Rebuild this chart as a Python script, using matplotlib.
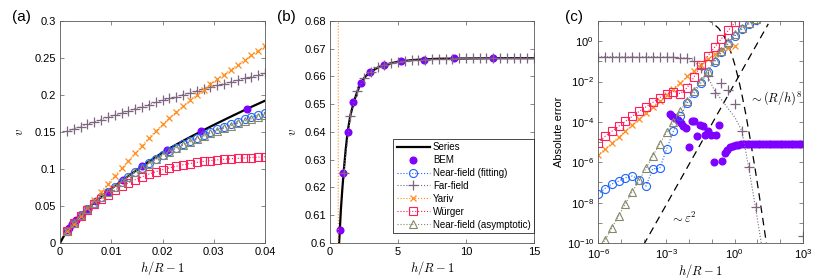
import matplotlib
matplotlib.use("Agg")
import matplotlib.pyplot as plt
from matplotlib.lines import Line2D
from matplotlib.ticker import FixedLocator, NullFormatter, LogFormatterSciNotation

plt.rcParams['font.family'] = ['Liberation Sans', 'DejaVu Sans']
plt.rcParams['mathtext.fontset'] = 'cm'

# ---------------- panel (a): small gaps ----------------
a_x = [0.00133, 0.00267, 0.004, 0.00533, 0.00667, 0.008, 0.00933, 0.01067, 0.012, 0.01333,
       0.01467, 0.016, 0.01733, 0.01867, 0.02, 0.02133, 0.02267, 0.024, 0.02533, 0.02667,
       0.028, 0.02933, 0.03067, 0.032, 0.03333, 0.03467, 0.036, 0.03733, 0.03867, 0.04]
a_series_x = [0.0] + a_x
a_series = [0.0, 0.0166, 0.0277, 0.0373, 0.0461, 0.0544, 0.0622, 0.0697, 0.0769, 0.0838, 0.0906,
            0.0972, 0.1036, 0.1099, 0.1161, 0.1221, 0.1278, 0.1329, 0.1380, 0.1429, 0.1477,
            0.1525, 0.1572, 0.1618, 0.1663, 0.1708, 0.1752, 0.1796, 0.1839, 0.1881, 0.1923]
a_bem_x = [0.0014, 0.0018, 0.0024, 0.0032, 0.0041, 0.0054, 0.0071, 0.0093, 0.0122, 0.016,
           0.0208, 0.0275, 0.0364]
a_bem = [0.0172, 0.0207, 0.0256, 0.0316, 0.0380, 0.0466, 0.0569, 0.0695, 0.0849, 0.1036,
         0.1257, 0.1518, 0.1807]
a_nf_fit = [0.0166, 0.0277, 0.0372, 0.0460, 0.0542, 0.0619, 0.0693, 0.0763, 0.0830, 0.0896,
            0.0959, 0.1020, 0.1079, 0.1137, 0.1193, 0.1245, 0.1290, 0.1335, 0.1378, 0.1419,
            0.1459, 0.1498, 0.1536, 0.1571, 0.1607, 0.1640, 0.1673, 0.1704, 0.1734, 0.1763]
a_far = [0.1510, 0.1542, 0.1574, 0.1605, 0.1636, 0.1667, 0.1697, 0.1727, 0.1757, 0.1786,
         0.1815, 0.1843, 0.1871, 0.1899, 0.1926, 0.1953, 0.1979, 0.2005, 0.2031, 0.2056,
         0.2081, 0.2106, 0.2130, 0.2154, 0.2178, 0.2201, 0.2224, 0.2247, 0.2269, 0.2291]
a_yariv = [0.0160, 0.0260, 0.0365, 0.0470, 0.0580, 0.0690, 0.0800, 0.0905, 0.1010, 0.1110,
           0.1210, 0.1315, 0.1420, 0.1512, 0.1602, 0.1688, 0.1770, 0.1850, 0.1926, 0.2000,
           0.2072, 0.2142, 0.2210, 0.2277, 0.2343, 0.2408, 0.2472, 0.2535, 0.2598, 0.2660]
a_wurger = [0.0168, 0.0277, 0.0368, 0.0450, 0.0525, 0.0593, 0.0655, 0.0712, 0.0764, 0.0812,
            0.0856, 0.0895, 0.0930, 0.0962, 0.0990, 0.1015, 0.1037, 0.1057, 0.1074, 0.1089,
            0.1102, 0.1113, 0.1123, 0.1131, 0.1138, 0.1144, 0.1149, 0.1155, 0.1160, 0.1165]
a_nf_asym = [0.0166, 0.0277, 0.0372, 0.0459, 0.0541, 0.0618, 0.0692, 0.0761, 0.0827, 0.0893,
             0.0955, 0.1015, 0.1073, 0.1130, 0.1186, 0.1236, 0.1280, 0.1324, 0.1366, 0.1406,
             0.1444, 0.1482, 0.1518, 0.1552, 0.1586, 0.1617, 0.1649, 0.1678, 0.1706, 0.1733]

# ---------------- panel (b): large gaps ----------------
b_series_x = [0.60, 0.67, 0.72, 0.80, 0.90, 1.0, 1.15, 1.3, 1.5, 1.75, 2.0, 2.25, 2.5, 2.75,
              3.0, 3.5, 4.0, 4.5, 5.0, 6.0, 7.0, 8.0, 10.0, 12.0, 15.0]
b_series = [0.593, 0.600, 0.6045, 0.612, 0.619, 0.6253, 0.6335, 0.6402, 0.6460, 0.6508,
            0.6545, 0.6574, 0.6594, 0.6607, 0.6617, 0.6632, 0.6641, 0.6648, 0.6653, 0.6659,
            0.6662, 0.6664, 0.6665, 0.6666, 0.6666]
b_bem_x = [0.73, 0.98, 1.30, 1.69, 2.25, 2.96, 3.94, 5.21, 6.9, 9.1, 12.0]
b_bem = [0.6047, 0.6253, 0.6401, 0.6507, 0.6575, 0.6617, 0.6641, 0.6656, 0.6661, 0.6665, 0.6666]
b_far_x = [1.0, 1.5, 2.0, 2.5, 3.0, 3.5, 4.0, 4.5, 5.0, 5.5, 6.0, 6.5, 7.0, 7.5, 8.0, 8.5,
           9.0, 9.5, 10.0, 10.5, 11.0, 11.5, 12.0, 12.5, 13.0, 13.5, 14.0, 14.5, 15.0]
b_far = [0.6253, 0.6458, 0.6546, 0.6594, 0.6618, 0.6633, 0.6642, 0.6648, 0.6652, 0.6655,
         0.6658, 0.6660, 0.6661, 0.6662, 0.6663, 0.6664, 0.6664, 0.6665, 0.6665, 0.6665,
         0.6666, 0.6666, 0.6666, 0.6666, 0.6666, 0.6666, 0.6666, 0.6666, 0.6666]
b_yariv_x = [0.605, 0.610, 0.615]
b_yariv = [0.57, 0.64, 0.71]

# ---------------- panel (c): absolute error ----------------
c_x = [1e-6, 2e-6, 4e-6, 8e-6, 1.6e-5, 3.2e-5, 6.4e-5, 1.28e-4, 2.56e-4, 5.12e-4, 1.024e-3,
       2.048e-3, 4.096e-3, 8.192e-3, 1.638e-2, 3.277e-2, 6.554e-2, 0.1311, 0.2621, 0.5243,
       1.049, 2.097, 4.194, 8.389]
c_wurger = [9.5e-6, 1.9e-5, 3.4e-5, 6.0e-5, 1.07e-4, 1.9e-4, 3.3e-4, 5.6e-4, 9.3e-4, 1.6e-3,
            2.4e-3, 3.2e-3, 2.5e-3, 5.0e-3, 1.66e-2, 6.6e-2, 0.178, 0.50, 1.32, 3.4, 8.9]
c_yariv = [2.2e-6, 4.5e-6, 8.9e-6, 1.8e-5, 3.5e-5, 7.1e-5, 1.4e-4, 2.8e-4, 5.6e-4, 1.1e-3,
           2.2e-3, 4.5e-3, 8.9e-3, 1.8e-2, 3.5e-2, 6.8e-2, 0.126, 0.224, 0.355, 0.47, 0.56]
c_nf_asym = [3.5e-11, 1.35e-10, 5.4e-10, 2.2e-9, 8.7e-9, 3.5e-8, 1.3e-7, 5.0e-7, 2.1e-6,
             8.3e-6, 3.0e-5, 9.5e-5, 3.5e-4, 1.1e-3, 3.5e-3, 1.07e-2, 3.5e-2, 0.112, 0.316,
             0.89, 2.2, 4.5, 7.9, 12.6]
c_nf_fit = [2.6e-8, 5.0e-8, 8.3e-8, 1.17e-7, 1.7e-7, 2.1e-7, 1.4e-7, 6.6e-8, 4.8e-7, 5.0e-7,
            4.5e-6, 3.5e-5, 2.0e-4, 8.3e-4, 2.6e-3, 8.5e-3, 2.95e-2, 9.5e-2, 0.275, 0.76,
            1.9, 4.0, 7.2, 11.5]
c_far_line_x = c_x + [16.78]
c_far_line = [0.168, 0.168, 0.168, 0.168, 0.168, 0.168, 0.168, 0.168, 0.168, 0.168, 0.163,
              0.160, 0.155, 0.148, 0.107, 0.045, 0.018, 3.5e-3, 1.26e-3, 4.5e-4, 1.6e-4,
              3.5e-5, 5e-7, 5e-9, 4e-11]
c_far_x = c_x + [1000.0]
c_far = [0.168, 0.168, 0.168, 0.168, 0.168, 0.168, 0.168, 0.168, 0.168, 0.168, 0.163, 0.160,
         0.155, 0.148, 0.107, 0.045, 0.018, 2.6e-3, 8.3e-3, 3.7e-3, 8e-4, 3.4e-5, 6e-7, 6e-9,
         2.3e-10]
c_bem_x = [1.40e-3, 1.85e-3, 2.44e-3, 3.22e-3, 4.25e-3, 5.61e-3, 7.41e-3, 9.78e-3, 1.29e-2,
           1.70e-2, 2.25e-2, 2.97e-2, 3.92e-2, 5.17e-2, 6.83e-2, 9.01e-2, 0.119, 0.157, 0.207,
           0.274, 0.361, 0.477, 0.630, 0.831, 1.10, 1.45, 1.91, 2.52, 3.33, 4.39, 5.80, 7.65,
           10.1, 13.3, 17.6, 23.2, 30.7, 40.5, 53.4, 70.5, 93.1, 123, 162, 214, 283, 373, 493,
           651, 859]
c_bem = [2.34e-4, 1.9e-4, 1.58e-4, 1.26e-4, 8.9e-5, 6.3e-5, 5.0e-5, 6.0e-6, 1.12e-4, 1.07e-4,
         2.1e-5, 7.4e-5, 6.0e-5, 2.3e-5, 3.5e-5, 2.3e-5, 1.07e-6, 2.3e-5, 7.4e-5, 1.2e-6,
         2.8e-6, 4.2e-6, 5.4e-6, 6.3e-6, 6.9e-6, 7.4e-6, 7.9e-6, 7.9e-6, 7.9e-6, 7.9e-6, 7.9e-6,
         7.9e-6, 7.9e-6, 7.9e-6, 7.9e-6, 7.9e-6, 7.9e-6, 7.9e-6, 7.9e-6, 7.9e-6, 7.9e-6,
         7.9e-6, 7.9e-6, 7.9e-6, 7.9e-6, 7.9e-6, 7.9e-6, 7.9e-6, 7.9e-6]
# guide lines
eps2_x = [1.0e-4, 30.0]
eps2 = [8.0e-11, 7.2]
rh8_x = [0.05, 0.1, 0.2, 0.35, 0.5, 0.75, 1.0, 1.5, 2.0, 3.0, 5.0, 8.0, 12.0, 18.0, 26.0]
rh8 = [12.5, 8.63, 4.30, 1.68, 0.722, 0.210, 0.0723, 0.0121, 2.82e-3, 2.82e-4, 1.10e-5,
       4.30e-7, 2.27e-8, 1.09e-9, 6.55e-11]

labels = ['Series', 'BEM', 'Near-field (fitting)', 'Far-field', 'Yariv', 'Würger',
          'Near-field (asymptotic)']

STY = {
    'series': dict(color='k', ls='-', lw=1.6),
    'bem': dict(color='#8000ff', ls='none', marker='o', ms=4.8, mec='#8000ff'),
    'nf_fit': dict(color='#1f64ff', ls=':', lw=0.8, marker='o', ms=5.8, mfc='none', mew=0.8),
    'far': dict(color='#7d6580', ls=':', lw=0.8, marker='+', ms=7, mew=0.9),
    'yariv': dict(color='#ff8c1a', ls=':', lw=0.8, marker='x', ms=5, mew=0.9),
    'wurger': dict(color='#ff1f5b', ls=':', lw=0.8, marker='s', ms=5.2, mfc='none', mew=0.8),
    'nf_asym': dict(color='#87876a', ls=':', lw=0.8, marker='^', ms=6, mfc='none', mew=0.8),
}


def style_axes(ax):
    for s in ax.spines.values():
        s.set_color('0.35')
        s.set_linewidth(0.6)
    ax.tick_params(which='both', direction='in', top=True, right=True, length=3,
                   width=0.5, color='0.35', labelsize=8, pad=3)


fig = plt.figure(figsize=(8.3, 2.79), dpi=100)
W, H = 830.0, 279.0
ax_a = fig.add_axes([60 / W, 36 / H, 205 / W, 222 / H])
ax_b = fig.add_axes([330 / W, 36 / H, 204 / W, 222 / H])
ax_c = fig.add_axes([598 / W, 36 / H, 205 / W, 222 / H])

# (a)
ax_a.plot(a_series_x, a_series, **STY['series'])
ax_a.plot(a_bem_x, a_bem, **STY['bem'])
ax_a.plot(a_x, a_nf_fit, **STY['nf_fit'])
ax_a.plot(a_x, a_far, **STY['far'])
ax_a.plot(a_x, a_yariv, **STY['yariv'])
ax_a.plot(a_x, a_wurger, **STY['wurger'])
ax_a.plot(a_x, a_nf_asym, **STY['nf_asym'])
ax_a.set_xlim(0, 0.04)
ax_a.set_ylim(0, 0.3)
ax_a.set_xticks([0, 0.01, 0.02, 0.03, 0.04])
ax_a.set_xticklabels(['0', '0.01', '0.02', '0.03', '0.04'])
ax_a.set_yticks([0, 0.05, 0.1, 0.15, 0.2, 0.25, 0.3])
ax_a.set_yticklabels(['0', '0.05', '0.1', '0.15', '0.2', '0.25', '0.3'])
ax_a.set_ylabel(r'$v$', fontsize=9, labelpad=6)

# (b)
ax_b.plot(b_series_x, b_series, **STY['series'])
ax_b.plot(b_bem_x, b_bem, **STY['bem'])
ax_b.plot(b_far_x, b_far, **STY['far'])
ax_b.plot(b_yariv_x, b_yariv, color=STY['yariv']['color'], ls=':', lw=0.8)
ax_b.set_xlim(0, 15)
ax_b.set_ylim(0.6, 0.68)
ax_b.set_xticks([0, 5, 10, 15])
ax_b.set_yticks([0.6, 0.61, 0.62, 0.63, 0.64, 0.65, 0.66, 0.67, 0.68])
ax_b.set_yticklabels(['0.6', '0.61', '0.62', '0.63', '0.64', '0.65', '0.66', '0.67', '0.68'])
ax_b.set_ylabel(r'$v$', fontsize=9, labelpad=4)

handles = [Line2D([], [], **STY[k]) for k in
           ['series', 'bem', 'nf_fit', 'far', 'yariv', 'wurger', 'nf_asym']]
leg = ax_b.legend(handles, labels, loc='lower right', bbox_to_anchor=(1.0, 0.045),
                  fontsize=7, frameon=True, fancybox=False, edgecolor='k', framealpha=1,
                  handlelength=3.4, handletextpad=0.3, labelspacing=0.3, borderpad=0.35,
                  borderaxespad=0, numpoints=1)
leg.get_frame().set_linewidth(0.5)

# (c)
ax_c.set_xscale('log')
ax_c.set_yscale('log')
ax_c.plot(eps2_x, eps2, color='k', ls=(0, (6, 4)), lw=0.9)
ax_c.plot(rh8_x, rh8, color='k', ls=(0, (6, 4)), lw=0.9)
ax_c.plot(c_bem_x, c_bem, **STY['bem'])
ax_c.plot(c_x, c_nf_fit, **STY['nf_fit'])
ax_c.plot(c_far_line_x, c_far_line, color=STY['far']['color'], ls=':', lw=0.8)
ax_c.plot(c_far_x, c_far, **dict(STY['far'], ls='none'))
ax_c.plot(c_x[:len(c_yariv)], c_yariv, **STY['yariv'])
ax_c.plot(c_x[:len(c_wurger)], c_wurger, **STY['wurger'])
ax_c.plot(c_x, c_nf_asym, **STY['nf_asym'])
ax_c.set_xlim(1e-6, 1e3)
ax_c.set_ylim(1e-10, 1e1)
ax_c.xaxis.set_major_locator(FixedLocator([1e-6, 1e-3, 1e0, 1e3]))
ax_c.xaxis.set_minor_locator(FixedLocator([10.0 ** e for e in range(-6, 4)]))
ax_c.yaxis.set_major_locator(FixedLocator([10.0 ** e for e in range(-10, 1, 2)]))
ax_c.yaxis.set_minor_locator(FixedLocator([10.0 ** e for e in range(-10, 2)]))
ax_c.xaxis.set_major_formatter(LogFormatterSciNotation())
ax_c.yaxis.set_major_formatter(LogFormatterSciNotation())
ax_c.xaxis.set_minor_formatter(NullFormatter())
ax_c.yaxis.set_minor_formatter(NullFormatter())
ax_c.set_ylabel('Absolute error', fontsize=8, labelpad=2)
ax_c.text(4.2, 1.5e-3, r'$\sim(R/h)^8$', fontsize=9, va='center', ha='left')
ax_c.text(1.5e-3, 1.6e-9, r'$\sim\varepsilon^2$', fontsize=9, va='center', ha='left')

for ax in (ax_a, ax_b, ax_c):
    style_axes(ax)
    ax.set_xlabel(r'$h/R-1$', fontsize=9, labelpad=1)

fig.text(12 / W, 1 - 17 / H, '(a)', fontsize=11, va='center', ha='left')
fig.text(277 / W, 1 - 17 / H, '(b)', fontsize=11, va='center', ha='left')
fig.text(565 / W, 1 - 17 / H, '(c)', fontsize=11, va='center', ha='left')

fig.savefig('out.png', dpi=100)
